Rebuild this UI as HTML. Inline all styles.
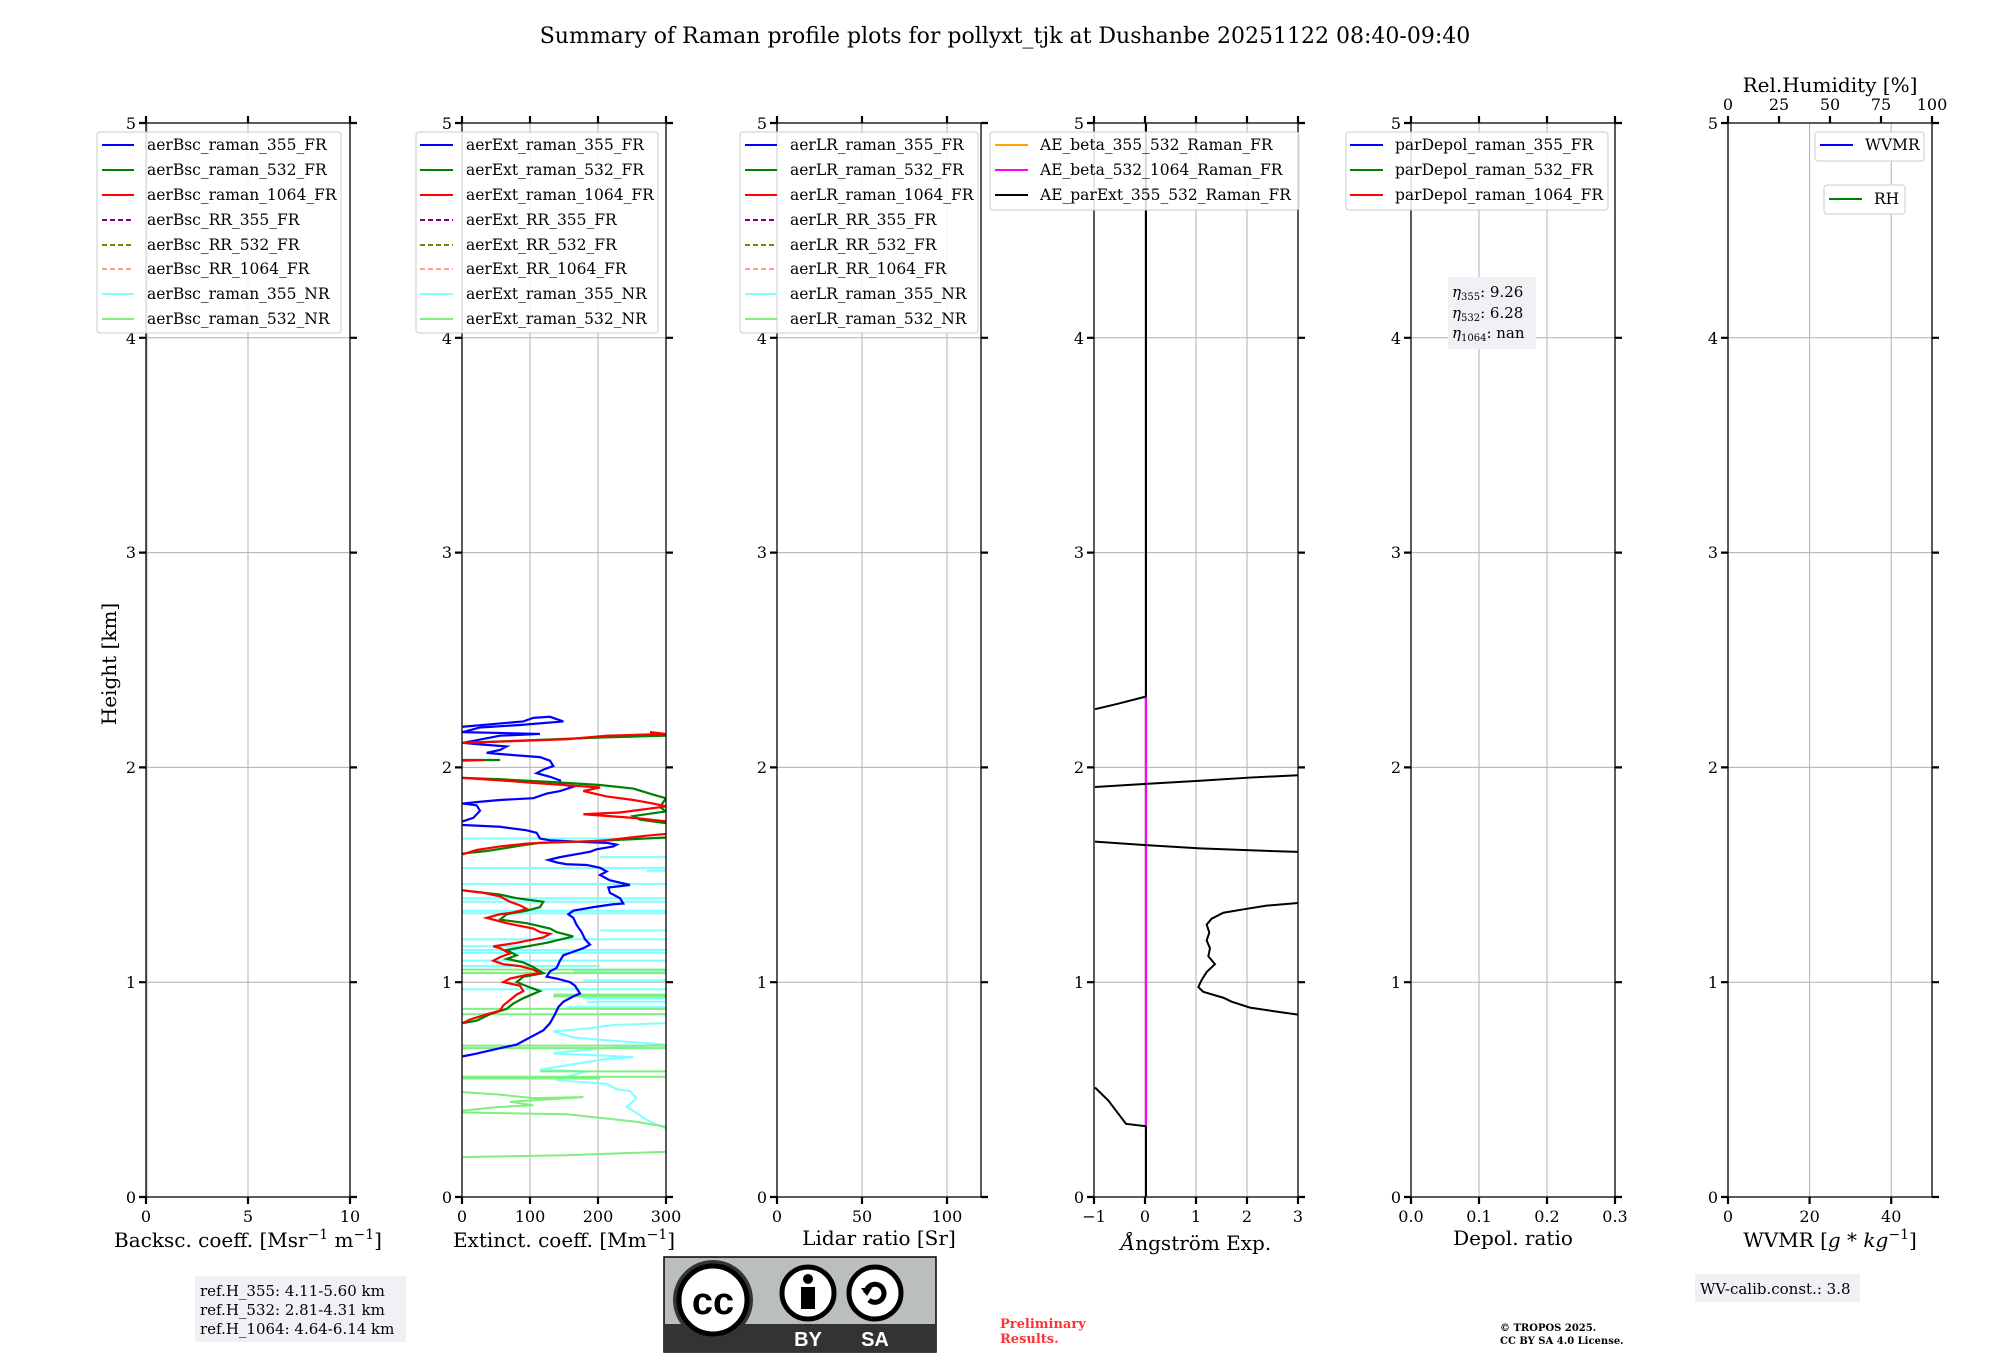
<!DOCTYPE html>
<html><head><meta charset="utf-8"><style>
html,body{margin:0;padding:0;background:#fff;}
svg{display:block;font-family:"DejaVu Serif","Liberation Serif",serif;}
.g{stroke:#b0b0b0;stroke-width:1;fill:none}
.ax{stroke:#000;stroke-width:1.3;fill:none}
.tk{stroke:#000;stroke-width:2.2}
.tl{font-size:16px;fill:#000}
.lg{font-size:15.5px;fill:#000}
.lb{font-size:20px;fill:#000}
.ns{vector-effect:non-scaling-stroke;fill:none}
</style></head><body>
<svg width="2000" height="1360" viewBox="0 0 2000 1360" xmlns="http://www.w3.org/2000/svg">
<defs>
<clipPath id="c2"><rect x="462" y="123" width="204" height="1074"/></clipPath>
<clipPath id="c4"><rect x="1094" y="123" width="204" height="1074"/></clipPath>
</defs>
<text x="1005" y="43" text-anchor="middle" font-size="22">Summary of Raman profile plots for pollyxt_tjk at Dushanbe 20251122 08:40-09:40</text>
<text transform="translate(116,664) rotate(-90)" text-anchor="middle" class="lb">Height [km]</text>

<!-- Panel 1 -->
<g transform="translate(146,0)">
<path class="g" d="M1,123V1197M102,123V1197M0,982.2H204M0,767.4H204M0,552.6H204M0,337.8H204"/>
<rect class="ax" x="0" y="123" width="204" height="1074"/>
<path class="tk" d="M-7,1197H0M-7,982.2H0M-7,767.4H0M-7,552.6H0M-7,337.8H0M-7,123H0M204,1197h7M204,982.2h7M204,767.4h7M204,552.6h7M204,337.8h7M204,123h7M0,116V123M102,116V123M204,116V123M0,1197v7M102,1197v7M204,1197v7"/>
<g class="tl" text-anchor="end"><text x="-10" y="1203">0</text><text x="-10" y="988">1</text><text x="-10" y="773">2</text><text x="-10" y="558">3</text><text x="-10" y="344">4</text><text x="-10" y="129">5</text></g>
<g class="tl" text-anchor="middle"><text x="0" y="1222">0</text><text x="102" y="1222">5</text><text x="204" y="1222">10</text></g>
<text x="102" y="1247" text-anchor="middle" class="lb">Backsc. coeff. [Msr<tspan dy="-8" font-size="14">−1</tspan><tspan dy="8"> m</tspan><tspan dy="-8" font-size="14">−1</tspan><tspan dy="8">]</tspan></text>
</g>
<g>
<rect x="97" y="132" width="244" height="201" rx="3" fill="#fff" fill-opacity="0.85" stroke="#ccc"/>
<g stroke-width="2">
<path d="M102,145h32" stroke="#0000ff"/><path d="M102,170h32" stroke="#008000"/><path d="M102,195h32" stroke="#ff0000"/>
<path d="M102,220h32" stroke="#800080" stroke-dasharray="5,3"/><path d="M102,245h32" stroke="#808000" stroke-dasharray="5,3"/><path d="M102,269h32" stroke="#ffa07a" stroke-dasharray="5,3"/>
<path d="M102,294h32" stroke="#7fffff"/><path d="M102,319h32" stroke="#7fef7f"/></g>
<g class="lg"><text x="147" y="150">aerBsc_raman_355_FR</text><text x="147" y="175">aerBsc_raman_532_FR</text><text x="147" y="200">aerBsc_raman_1064_FR</text><text x="147" y="225">aerBsc_RR_355_FR</text><text x="147" y="250">aerBsc_RR_532_FR</text><text x="147" y="274">aerBsc_RR_1064_FR</text><text x="147" y="299">aerBsc_raman_355_NR</text><text x="147" y="324">aerBsc_raman_532_NR</text></g>
</g>

<!-- Panel 2 -->
<g transform="translate(462,0)">
<path class="g" d="M68,123V1197M136,123V1197M0,982.2H204M0,767.4H204M0,552.6H204M0,337.8H204"/>
</g>
<g clip-path="url(#c2)">
<g transform="translate(400,700) scale(0.3333,0.3571)">
<g stroke="#7fffff" stroke-width="2" class="ns">
<path class="ns" d="M798,1200 L760,1185 L730,1170 L700,1150 L680,1140 L710,1115 L690,1095 L650,1090 L620,1075 L550,1070 L470,1065 L500,1055 L560,1040 L420,1035 L520,1020 L620,1005 L700,1000 L600,995 L460,990 L500,985 L620,975 L798,965 L650,955 L520,945 L460,928 L560,920 L640,910 L798,905"/>
<path class="ns" d="M188,388H798M600,440H798M188,470H798M740,478H798M188,515H798M188,555H798M188,565H798M188,590H798M188,597H798M600,645H798M188,670H798M188,690H380M188,700H798M188,708H798M188,730H798M188,745H600M520,760H798M550,785H798M188,810H798M550,835H798M560,845H798M500,860H798M600,880H798"/>
</g>
<g stroke="#7fef7f" stroke-width="2">
<path class="ns" d="M188,755H798M188,765H798M460,825H798M460,830H798M188,865H798M188,880H798M188,968H798M188,975H798M420,1040H798M188,1055H798M188,1060H600"/>
<path class="ns" d="M188,1280 L500,1275 L798,1265"/>
<path class="ns" d="M188,1155 L500,1160 L700,1180 L798,1195"/>
<path class="ns" d="M188,1098 L300,1105 L400,1115 L550,1112 L330,1125 L400,1135 L290,1140 L188,1150"/>
</g>
<path class="ns" stroke="#0000ff" stroke-width="2.2" d="M188,998 L230,990 L300,975 L350,965 L390,945 L430,925 L450,905 L465,880 L475,860 L490,845 L520,830 L540,822 L525,800 L510,790 L470,780 L440,775 L450,760 L470,750 L480,730 L490,715 L520,705 L550,695 L570,685 L555,670 L545,650 L530,630 L520,610 L505,600 L520,590 L580,580 L640,572 L670,570 L660,555 L630,540 L625,525 L690,518 L630,505 L600,490 L620,480 L600,470 L560,462 L500,460 L470,455 L445,448 L480,440 L540,430 L570,425 L590,418 L640,410 L650,405 L620,400 L560,398 L450,393 L420,388 L410,372 L380,365 L300,355 L188,350 M188,340 L220,330 L240,310 L230,295 L188,290 L240,285 L300,280 L400,275 L440,262 L480,255 L520,243 L480,235 L480,225 L450,215 L410,205 L430,195 L460,185 L450,170 L420,160 L350,155 L260,148 L300,140 L320,130 L250,125 L190,120 L300,100 L420,95 L188,90 L240,77 L360,70 L490,60 L450,47 L400,50 L370,60 L188,75"/>
<path class="ns" stroke="#008000" stroke-width="2.2" d="M188,905 L230,898 L270,880 L320,865 L340,850 L370,835 L420,815 L390,805 L350,790 L370,775 L430,765 L400,748 L370,735 L320,725 L350,715 L320,700 L380,690 L440,680 L520,662 L470,650 L450,640 L380,625 L300,615 L320,600 L380,590 L420,580 L430,565 L350,555 L300,545 L188,533 M188,430 L260,423 L360,408 L420,400 L560,396 L798,385 M798,345 L720,335 L700,325 L798,312 L780,300 L798,275 L760,265 L700,248 L600,238 L460,230 L300,222 L188,218 M188,168 L300,168 M188,120 L600,105 L798,100"/>
<path class="ns" stroke="#ff0000" stroke-width="2.2" d="M188,905 L210,895 L260,880 L300,870 L310,855 L330,840 L350,825 L370,815 L360,800 L310,790 L330,780 L380,770 L420,765 L400,755 L360,745 L310,740 L280,730 L300,720 L330,710 L300,695 L280,690 L350,680 L430,665 L450,655 L420,650 L400,640 L320,625 L260,610 L300,600 L340,595 L380,585 L360,575 L330,565 L300,550 L250,540 L188,533 M188,432 L230,420 L300,410 L380,402 L470,398 L600,395 L740,380 L798,375 M798,340 L700,330 L550,320 L660,315 L798,298 L760,290 L700,280 L620,270 L550,255 L600,245 L520,240 L400,232 L300,225 L188,218 M188,170 L250,168 M188,120 L350,115 L500,110 L620,100 L798,95 L750,90"/>
</g></g>
<g transform="translate(462,0)">
<rect class="ax" x="0" y="123" width="204" height="1074"/>
<path class="tk" d="M-7,1197H0M-7,982.2H0M-7,767.4H0M-7,552.6H0M-7,337.8H0M-7,123H0M204,1197h7M204,982.2h7M204,767.4h7M204,552.6h7M204,337.8h7M204,123h7M0,116V123M68,116V123M136,116V123M204,116V123M0,1197v7M68,1197v7M136,1197v7M204,1197v7"/>
<g class="tl" text-anchor="end"><text x="-10" y="1203">0</text><text x="-10" y="988">1</text><text x="-10" y="773">2</text><text x="-10" y="558">3</text><text x="-10" y="344">4</text><text x="-10" y="129">5</text></g>
<g class="tl" text-anchor="middle"><text x="0" y="1222">0</text><text x="68" y="1222">100</text><text x="136" y="1222">200</text><text x="204" y="1222">300</text></g>
<text x="102" y="1247" text-anchor="middle" class="lb">Extinct. coeff. [Mm<tspan dy="-8" font-size="14">−1</tspan><tspan dy="8">]</tspan></text>
</g>
<g>
<rect x="416" y="132" width="242" height="201" rx="3" fill="#fff" fill-opacity="0.85" stroke="#ccc"/>
<g stroke-width="2">
<path d="M420,145h33" stroke="#0000ff"/><path d="M420,170h33" stroke="#008000"/><path d="M420,195h33" stroke="#ff0000"/>
<path d="M420,220h33" stroke="#800080" stroke-dasharray="5,3"/><path d="M420,245h33" stroke="#808000" stroke-dasharray="5,3"/><path d="M420,269h33" stroke="#ffa07a" stroke-dasharray="5,3"/>
<path d="M420,294h33" stroke="#7fffff"/><path d="M420,319h33" stroke="#7fef7f"/></g>
<g class="lg"><text x="466" y="150">aerExt_raman_355_FR</text><text x="466" y="175">aerExt_raman_532_FR</text><text x="466" y="200">aerExt_raman_1064_FR</text><text x="466" y="225">aerExt_RR_355_FR</text><text x="466" y="250">aerExt_RR_532_FR</text><text x="466" y="274">aerExt_RR_1064_FR</text><text x="466" y="299">aerExt_raman_355_NR</text><text x="466" y="324">aerExt_raman_532_NR</text></g>
</g>

<!-- Panel 3 -->
<g transform="translate(777,0)">
<path class="g" d="M85,123V1197M170,123V1197M0,982.2H204M0,767.4H204M0,552.6H204M0,337.8H204"/>
<rect class="ax" x="0" y="123" width="204" height="1074"/>
<path class="tk" d="M-7,1197H0M-7,982.2H0M-7,767.4H0M-7,552.6H0M-7,337.8H0M-7,123H0M204,1197h7M204,982.2h7M204,767.4h7M204,552.6h7M204,337.8h7M204,123h7M0,116V123M85,116V123M170,116V123M0,1197v7M85,1197v7M170,1197v7"/>
<g class="tl" text-anchor="end"><text x="-10" y="1203">0</text><text x="-10" y="988">1</text><text x="-10" y="773">2</text><text x="-10" y="558">3</text><text x="-10" y="344">4</text><text x="-10" y="129">5</text></g>
<g class="tl" text-anchor="middle"><text x="0" y="1222">0</text><text x="85" y="1222">50</text><text x="170" y="1222">100</text></g>
<text x="102" y="1245" text-anchor="middle" class="lb">Lidar ratio [Sr]</text>
</g>
<g>
<rect x="740" y="132" width="238" height="201" rx="3" fill="#fff" fill-opacity="0.85" stroke="#ccc"/>
<g stroke-width="2">
<path d="M745,145h32" stroke="#0000ff"/><path d="M745,170h32" stroke="#008000"/><path d="M745,195h32" stroke="#ff0000"/>
<path d="M745,220h32" stroke="#800080" stroke-dasharray="5,3"/><path d="M745,245h32" stroke="#808000" stroke-dasharray="5,3"/><path d="M745,269h32" stroke="#ffa07a" stroke-dasharray="5,3"/>
<path d="M745,294h32" stroke="#7fffff"/><path d="M745,319h32" stroke="#7fef7f"/></g>
<g class="lg"><text x="790" y="150">aerLR_raman_355_FR</text><text x="790" y="175">aerLR_raman_532_FR</text><text x="790" y="200">aerLR_raman_1064_FR</text><text x="790" y="225">aerLR_RR_355_FR</text><text x="790" y="250">aerLR_RR_532_FR</text><text x="790" y="274">aerLR_RR_1064_FR</text><text x="790" y="299">aerLR_raman_355_NR</text><text x="790" y="324">aerLR_raman_532_NR</text></g>
</g>

<!-- Panel 4 -->
<g transform="translate(1094,0)">
<path class="g" d="M51,123V1197M102,123V1197M153,123V1197M0,982.2H204M0,767.4H204M0,552.6H204M0,337.8H204"/>
</g>
<g clip-path="url(#c4)">
<path d="M1146,123V697" stroke="#000" stroke-width="2"/>
<path d="M1146,697V1126" stroke="#ff00ff" stroke-width="2.2"/>
<path d="M1146,1126V1197" stroke="#000" stroke-width="2"/>
<g transform="translate(1050,640) scale(0.3333,0.3953)" stroke="#000" stroke-width="2">
<path class="ns" d="M135,175 L200,162 L288,143"/>
<path class="ns" d="M135,372 L288,364 L450,356 L600,348 L747,342"/>
<path class="ns" d="M135,510 L288,519 L450,527 L600,532 L747,536"/>
<path class="ns" d="M747,665 L650,672 L590,680 L520,690 L485,705 L470,720 L478,740 L470,760 L480,780 L475,800 L495,820 L470,840 L455,860 L445,878 L460,890 L520,905 L545,915 L600,930 L680,940 L747,948"/>
<path class="ns" d="M135,1132 L175,1165 L228,1224 L288,1230"/>
</g></g>
<g transform="translate(1094,0)">
<rect class="ax" x="0" y="123" width="204" height="1074"/>
<path class="tk" d="M-7,1197H0M-7,982.2H0M-7,767.4H0M-7,552.6H0M-7,337.8H0M-7,123H0M204,1197h7M204,982.2h7M204,767.4h7M204,552.6h7M204,337.8h7M204,123h7M0,116V123M51,116V123M102,116V123M153,116V123M204,116V123M0,1197v7M51,1197v7M102,1197v7M153,1197v7M204,1197v7"/>
<g class="tl" text-anchor="end"><text x="-10" y="1203">0</text><text x="-10" y="988">1</text><text x="-10" y="773">2</text><text x="-10" y="558">3</text><text x="-10" y="344">4</text><text x="-10" y="129">5</text></g>
<g class="tl" text-anchor="middle"><text x="0" y="1222">−1</text><text x="51" y="1222">0</text><text x="102" y="1222">1</text><text x="153" y="1222">2</text><text x="204" y="1222">3</text></g>
<text x="102" y="1250" text-anchor="middle" class="lb"><tspan font-style="italic">Å</tspan>ngström Exp.</text>
</g>
<g>
<rect x="990" y="132" width="309" height="78" rx="3" fill="#fff" fill-opacity="0.85" stroke="#ccc"/>
<g stroke-width="2"><path d="M995,145h33" stroke="#ffa500"/><path d="M995,170h33" stroke="#ff00ff"/><path d="M995,195h33" stroke="#000"/></g>
<g class="lg"><text x="1040" y="150">AE_beta_355_532_Raman_FR</text><text x="1040" y="175">AE_beta_532_1064_Raman_FR</text><text x="1040" y="200">AE_parExt_355_532_Raman_FR</text></g>
</g>

<!-- Panel 5 -->
<g transform="translate(1411,0)">
<path class="g" d="M68,123V1197M136,123V1197M0,982.2H204M0,767.4H204M0,552.6H204M0,337.8H204"/>
<rect class="ax" x="0" y="123" width="204" height="1074"/>
<path class="tk" d="M-7,1197H0M-7,982.2H0M-7,767.4H0M-7,552.6H0M-7,337.8H0M-7,123H0M204,1197h7M204,982.2h7M204,767.4h7M204,552.6h7M204,337.8h7M204,123h7M0,116V123M68,116V123M136,116V123M204,116V123M0,1197v7M68,1197v7M136,1197v7M204,1197v7"/>
<g class="tl" text-anchor="end"><text x="-10" y="1203">0</text><text x="-10" y="988">1</text><text x="-10" y="773">2</text><text x="-10" y="558">3</text><text x="-10" y="344">4</text><text x="-10" y="129">5</text></g>
<g class="tl" text-anchor="middle"><text x="0" y="1222">0.0</text><text x="68" y="1222">0.1</text><text x="136" y="1222">0.2</text><text x="204" y="1222">0.3</text></g>
<text x="102" y="1245" text-anchor="middle" class="lb">Depol. ratio</text>
</g>
<g>
<rect x="1346" y="132" width="262" height="78" rx="3" fill="#fff" fill-opacity="0.85" stroke="#ccc"/>
<g stroke-width="2"><path d="M1350,145h33" stroke="#0000ff"/><path d="M1350,170h33" stroke="#008000"/><path d="M1350,195h33" stroke="#ff0000"/></g>
<g class="lg"><text x="1395" y="150">parDepol_raman_355_FR</text><text x="1395" y="175">parDepol_raman_532_FR</text><text x="1395" y="200">parDepol_raman_1064_FR</text></g>
<rect x="1448" y="277" width="88" height="72" fill="#f0f1f5"/>
<g font-size="15" fill="#000">
<text x="1452" y="297"><tspan font-style="italic">η</tspan><tspan font-size="10" dy="3">355</tspan><tspan dy="-3">: 9.26</tspan></text>
<text x="1452" y="318"><tspan font-style="italic">η</tspan><tspan font-size="10" dy="3">532</tspan><tspan dy="-3">: 6.28</tspan></text>
<text x="1452" y="338"><tspan font-style="italic">η</tspan><tspan font-size="10" dy="3">1064</tspan><tspan dy="-3">: nan</tspan></text>
</g>
</g>

<!-- Panel 6 -->
<g transform="translate(1728,0)">
<path class="g" d="M81.6,123V1197M163.2,123V1197M0,982.2H204M0,767.4H204M0,552.6H204M0,337.8H204"/>
<rect class="ax" x="0" y="123" width="204" height="1074"/>
<path class="tk" d="M-7,1197H0M-7,982.2H0M-7,767.4H0M-7,552.6H0M-7,337.8H0M-7,123H0M204,1197h7M204,982.2h7M204,767.4h7M204,552.6h7M204,337.8h7M204,123h7M0,116V123M51,116V123M102,116V123M153,116V123M204,116V123M0,1197v7M81.6,1197v7M163.2,1197v7"/>
<g class="tl" text-anchor="end"><text x="-10" y="1203">0</text><text x="-10" y="988">1</text><text x="-10" y="773">2</text><text x="-10" y="558">3</text><text x="-10" y="344">4</text><text x="-10" y="129">5</text></g>
<g class="tl" text-anchor="middle"><text x="0" y="1222">0</text><text x="81.6" y="1222">20</text><text x="163.2" y="1222">40</text></g>
<g class="tl" text-anchor="middle"><text x="0" y="110">0</text><text x="51" y="110">25</text><text x="102" y="110">50</text><text x="153" y="110">75</text><text x="204" y="110">100</text></g>
<text x="102" y="92" text-anchor="middle" class="lb">Rel.Humidity [%]</text>
<text x="102" y="1247" text-anchor="middle" class="lb">WVMR [<tspan font-style="italic">g</tspan> * <tspan font-style="italic">kg</tspan><tspan dy="-8" font-size="14">−1</tspan><tspan dy="8">]</tspan></text>
</g>
<g>
<rect x="1815" y="132" width="109" height="29" rx="3" fill="#fff" stroke="#ccc"/>
<path d="M1820,145h33" stroke="#0000ff" stroke-width="2"/><text x="1865" y="150" class="lg">WVMR</text>
<rect x="1824" y="185" width="81" height="29" rx="3" fill="#fff" stroke="#ccc"/>
<path d="M1829,199h33" stroke="#008000" stroke-width="2"/><text x="1874" y="204" class="lg">RH</text>
</g>

<!-- bottom annotations -->
<rect x="195" y="1276" width="211" height="66" fill="#f0f1f5"/>
<g font-size="15" fill="#000"><text x="200" y="1296">ref.H_355: 4.11-5.60 km</text><text x="200" y="1315">ref.H_532: 2.81-4.31 km</text><text x="200" y="1334">ref.H_1064: 4.64-6.14 km</text></g>
<rect x="1695" y="1274" width="165" height="28" fill="#f0f1f5"/>
<text x="1700" y="1294" font-size="15">WV-calib.const.: 3.8</text>
<g font-size="13" font-weight="bold" fill="#ff3333"><text x="1000" y="1328">Preliminary</text><text x="1000" y="1343">Results.</text></g>
<g font-size="10" font-weight="bold" fill="#000"><text x="1500" y="1331">© TROPOS 2025.</text><text x="1500" y="1344">CC BY SA 4.0 License.</text></g>

<!-- CC logo -->
<g>
<rect x="664" y="1257" width="272" height="95" fill="#bbbfbb" stroke="#000" stroke-width="1.5"/>
<rect x="664" y="1324" width="272" height="28" fill="#333"/>
<circle cx="713" cy="1300" r="40" fill="#333"/>
<circle cx="713" cy="1300" r="34" fill="#fff" stroke="#000" stroke-width="5"/>
<text x="713" y="1314" text-anchor="middle" font-family="Liberation Sans,sans-serif" font-weight="bold" font-size="38" fill="#000">cc</text>
<circle cx="808" cy="1293" r="26" fill="#fff" stroke="#000" stroke-width="5"/>
<circle cx="808" cy="1279" r="5" fill="#000"/>
<rect x="801" y="1287" width="14" height="22" fill="#000"/>
<circle cx="875" cy="1293" r="26" fill="#fff" stroke="#000" stroke-width="5"/>
<path d="M866,1293a9,9 0 1 1 3,7" fill="none" stroke="#000" stroke-width="5"/>
<path d="M861,1288l6,8l5,-8z" fill="#000"/>
<g font-family="Liberation Sans,sans-serif" font-weight="bold" font-size="20" fill="#fff" text-anchor="middle"><text x="808" y="1346">BY</text><text x="875" y="1346">SA</text></g>
</g>
</svg>
</body></html>
